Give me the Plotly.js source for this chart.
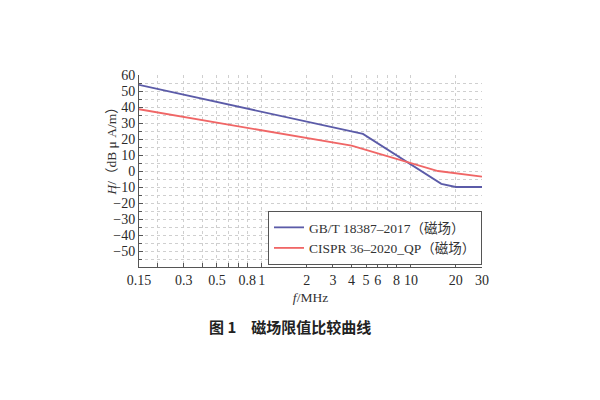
<!DOCTYPE html>
<html>
<head>
<meta charset="utf-8">
<script src="https://cdn.plot.ly/plotly-3.0.1.min.js"></script>
<style>html,body{margin:0;padding:0;background:#fff;}#chart{width:600px;height:400px;}</style>
</head>
<body>
<div id="chart"></div>
<script>
// Data
const freqGB = [0.15, 4.77, 16, 20, 30];
const limitGB = [53.8, 23.2, -8, -10, -10];
const freqCISPR = [0.15, 4, 15.2, 30];
const limitCISPR = [38.6, 15.8, 0, -3.5];
const nameGB = 'GB/T 18387–2017（磁场）';
const nameCISPR = 'CISPR 36–2020_QP（磁场）';
const xTickVals = [0.15, 0.2, 0.3, 0.4, 0.5, 0.6, 0.7, 0.8, 1, 2, 3, 4, 5, 6, 7, 8, 10, 20, 30];
const xTickText = ['0.15', '', '0.3', '', '0.5', '', '', '0.8', '1', '2', '3', '4', '5', '6', '', '8', '10', '20', '30'];
const yTickVals = [-50, -40, -30, -20, -10, 0, 10, 20, 30, 40, 50, 60];

const serif = 'Liberation Serif, Times New Roman, serif';
const traces = [
  {x: freqGB, y: limitGB, name: nameGB, mode: 'lines', line: {color: '#5b5ba8', width: 1.8}},
  {x: freqCISPR, y: limitCISPR, name: nameCISPR, mode: 'lines', line: {color: '#f06666', width: 1.8}}
];
const layout = {
  width: 600, height: 400,
  paper_bgcolor: '#fff', plot_bgcolor: '#fff',
  margin: {l: 139, r: 118, t: 75, b: 133},
  showlegend: true,
  legend: {
    x: 1, y: 0.01, xanchor: 'right', yanchor: 'bottom',
    bgcolor: '#fff', bordercolor: '#555', borderwidth: 1,
    font: {family: serif + ', Noto Sans CJK SC', size: 13.5, color: '#333'},
    itemwidth: 30, tracegroupgap: 0
  },
  xaxis: {
    type: 'log',
    range: [Math.log10(0.15), Math.log10(30)],
    tickmode: 'array', tickvals: xTickVals, ticktext: xTickText,
    ticks: 'inside', ticklen: 4, tickcolor: '#555',
    showline: true, linecolor: '#555', linewidth: 1,
    showgrid: true, gridcolor: '#cfcfcf', griddash: 'dot', gridwidth: 1,
    zeroline: false,
    tickfont: {family: serif, size: 14, color: '#2a2a2a'},
    title: {text: '<i>f</i>/MHz', font: {family: serif, size: 13.5, color: '#333'}, standoff: 5}
  },
  yaxis: {
    range: [-60, 60],
    tickmode: 'array', tickvals: yTickVals,
    ticks: 'inside', ticklen: 4, tickcolor: '#555',
    showline: true, linecolor: '#555', linewidth: 1,
    showgrid: true, gridcolor: '#cfcfcf', griddash: 'dot', gridwidth: 1,
    zeroline: false,
    minor: {dtick: 5, tick0: 0, ticks: 'inside', ticklen: 3, tickcolor: '#555', showgrid: true, gridcolor: '#cfcfcf', griddash: 'dot'},
    tickfont: {family: serif, size: 14, color: '#2a2a2a'}
  },
  annotations: [
    {text: '<i>H</i>/（dB μ A/m）', xref: 'paper', yref: 'paper', x: -0.08, y: 0.62,
     xanchor: 'center', yanchor: 'middle', textangle: -90, showarrow: false,
     font: {family: serif + ', Noto Sans CJK SC', size: 13.5, color: '#333'}},
    {text: '图 1　磁场限值比较曲线', xref: 'paper', yref: 'paper', x: 0.44, y: -0.31,
     xanchor: 'center', yanchor: 'middle', showarrow: false,
     font: {family: 'Noto Sans CJK SC', size: 15, color: '#222', weight: 'bold'}}
  ]
};
Plotly.newPlot('chart', traces, layout, {staticPlot: true, displayModeBar: false});
</script>
</body>
</html>
